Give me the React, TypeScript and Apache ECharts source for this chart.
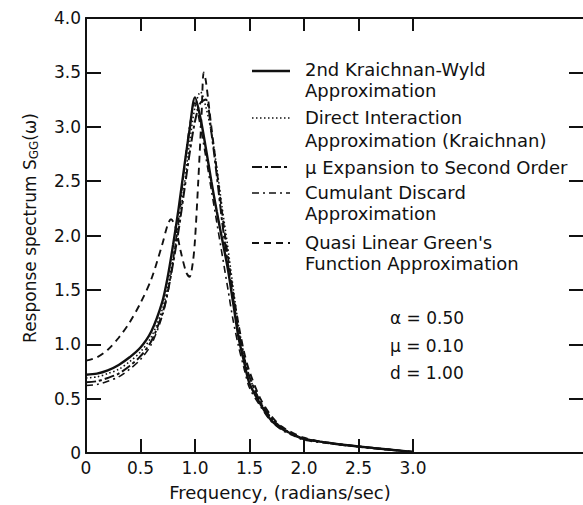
import React, { useEffect, useRef } from "react";
import * as echarts from "echarts";

// Frequency grid shared by four of the curves (radians/sec)
const freq = [0, 0.1, 0.2, 0.3, 0.4, 0.5, 0.6, 0.7, 0.75, 0.8, 0.85, 0.9, 0.95, 1.0, 1.05, 1.1, 1.15, 1.2, 1.25, 1.3, 1.35, 1.4, 1.45, 1.5, 1.6, 1.7, 1.8, 1.9, 2.0, 2.25, 2.5, 2.75, 3.0];
const kraichnanWyld = [0.72, 0.73, 0.76, 0.81, 0.88, 0.97, 1.12, 1.39, 1.62, 1.92, 2.25, 2.62, 2.97, 3.27, 3.08, 2.8, 2.5, 2.22, 1.96, 1.7, 1.38, 1.06, 0.84, 0.64, 0.45, 0.3, 0.22, 0.17, 0.13, 0.09, 0.06, 0.035, 0.01];
const directInteraction = [0.69, 0.7, 0.73, 0.77, 0.84, 0.93, 1.07, 1.32, 1.53, 1.8, 2.1, 2.45, 2.85, 3.18, 3.32, 3.18, 2.95, 2.62, 2.25, 1.9, 1.52, 1.17, 0.9, 0.7, 0.47, 0.32, 0.23, 0.17, 0.13, 0.09, 0.06, 0.035, 0.01];
const muExpansion = [0.65, 0.66, 0.69, 0.73, 0.8, 0.89, 1.03, 1.28, 1.48, 1.75, 2.05, 2.4, 2.75, 3.05, 3.22, 3.25, 2.95, 2.55, 2.12, 1.75, 1.42, 1.12, 0.88, 0.7, 0.47, 0.32, 0.23, 0.17, 0.13, 0.09, 0.06, 0.035, 0.01];
const cumulantDiscard = [0.62, 0.63, 0.66, 0.7, 0.77, 0.86, 1.0, 1.26, 1.47, 1.78, 2.15, 2.6, 3.0, 3.22, 3.0, 2.72, 2.42, 2.12, 1.82, 1.52, 1.22, 0.98, 0.78, 0.6, 0.43, 0.29, 0.21, 0.16, 0.12, 0.085, 0.055, 0.03, 0.01];

// Quasi linear Green's function curve has its own sampling
const freqQL = [0, 0.1, 0.2, 0.3, 0.4, 0.5, 0.6, 0.7, 0.75, 0.78, 0.82, 0.87, 0.92, 0.95, 0.98, 1.0, 1.03, 1.06, 1.08, 1.1, 1.15, 1.2, 1.25, 1.3, 1.35, 1.4, 1.45, 1.5, 1.6, 1.7, 1.8, 2.0, 2.25, 2.5, 2.75, 3.0];
const quasiLinear = [0.85, 0.88, 0.95, 1.06, 1.2, 1.38, 1.6, 1.92, 2.1, 2.15, 2.08, 1.85, 1.66, 1.62, 1.75, 1.96, 2.5, 3.1, 3.5, 3.42, 3.0, 2.6, 2.2, 1.82, 1.48, 1.18, 0.93, 0.75, 0.5, 0.34, 0.24, 0.14, 0.09, 0.06, 0.035, 0.01];

const xTickValues = [0.5, 1.0, 1.5, 2.0, 2.5, 3.0];
const xLabelValues = [0, 0.5, 1.0, 1.5, 2.0, 2.5, 3.0];
const legendLines = [
  ["2nd Kraichnan-Wyld", "Approximation"],
  ["Direct Interaction", "Approximation (Kraichnan)"],
  ["\u03bc Expansion to Second Order"],
  ["Cumulant Discard", "Approximation"],
  ["Quasi Linear Green's", "Function Approximation"],
];
const paramLines = ["\u03b1 = 0.50", "\u03bc = 0.10", "d = 1.00"];

const FONT = "DejaVu Sans";
const INK = "#111";
const X_MAX = 4.56;
const Y_MAX = 4;

const styles: any[] = [
  { type: "solid", width: 2.4 },
  { type: [1.5, 2.5], width: 1.6 },
  { type: [10, 3, 3, 3], width: 2 },
  { type: [7, 4, 2, 4], width: 1.6 },
  { type: [7, 5], width: 1.9 },
];

const zip = (xs: number[], ys: number[]) => xs.map((x, i) => [x, ys[i]]);

export default function App() {
  const ref = useRef<HTMLDivElement>(null);
  useEffect(() => {
    if (!ref.current) return;
    const chart = echarts.init(ref.current, null, { renderer: "svg" });
    const seriesData = [
      zip(freq, kraichnanWyld),
      zip(freq, directInteraction),
      zip(freq, muExpansion),
      zip(freq, cumulantDiscard),
      zip(freqQL, quasiLinear),
    ];
    const names = ["Kraichnan-Wyld", "DIA", "mu", "Cumulant", "QuasiLinear"];

    const legendY = [71, 118, 167, 193, 243];
    const textY = [[69, 90], [117, 140], [167], [192, 213], [242, 263]];
    const graphic: any[] = [];
    legendLines.forEach((lines, i) => {
      const s = styles[i];
      graphic.push({
        type: "line",
        shape: { x1: 252, y1: legendY[i], x2: 290, y2: legendY[i] },
        style: {
          stroke: INK,
          lineWidth: s.width,
          lineDash: Array.isArray(s.type) ? s.type : null,
        },
      });
      lines.forEach((t, j) => {
        graphic.push({
          type: "text",
          x: 305,
          y: textY[i][j],
          style: { text: t, fill: INK, font: `18px "${FONT}"`, verticalAlign: "middle", align: "left" },
        });
      });
    });
    paramLines.forEach((t, i) => {
      graphic.push({
        type: "text",
        x: 390,
        y: [318, 346, 373][i],
        style: { text: t, fill: INK, font: `17px "${FONT}"`, verticalAlign: "middle", align: "left" },
      });
    });
    graphic.push({
      type: "text",
      x: 280,
      y: 492,
      style: { text: "Frequency, (radians/sec)", fill: INK, font: `18px "${FONT}"`, verticalAlign: "middle", align: "center" },
    });
    graphic.push({
      type: "text",
      x: 30,
      y: 228,
      rotation: Math.PI / 2,
      style: {
        text: "{a|Response spectrum S}{s|GG}{a|(\u03c9)}",
        fill: INK,
        align: "center",
        verticalAlign: "middle",
        rich: {
          a: { fontFamily: FONT, fontSize: 17, fill: INK },
          s: { fontFamily: FONT, fontSize: 12, fill: INK, padding: [7, 0, 0, 0] },
        },
      },
    });

    const axisLine = (show = true) => ({ show, onZero: false, lineStyle: { color: INK, width: 2 } });
    const tick = (len: number, extra: any = {}) => ({
      show: true,
      inside: true,
      length: len,
      lineStyle: { color: INK, width: 2 },
      ...extra,
    });

    chart.setOption({
      animation: false,
      grid: { left: 86, top: 18, right: 0, bottom: 52 },
      xAxis: [
        {
          type: "value",
          min: 0,
          max: X_MAX,
          interval: 0.5,
          position: "bottom",
          axisLine: axisLine(),
          splitLine: { show: false },
          axisTick: tick(14, { customValues: xTickValues }),
          axisLabel: {
            customValues: xLabelValues,
            color: INK,
            fontFamily: FONT,
            fontSize: 17,
            margin: 6,
            formatter: (v: number) => (v === 0 ? "0" : v.toFixed(1)),
          },
        },
        {
          type: "value",
          min: 0,
          max: X_MAX,
          interval: 0.5,
          position: "top",
          axisLine: axisLine(),
          splitLine: { show: false },
          axisTick: tick(13, { customValues: xTickValues }),
          axisLabel: { show: false },
        },
      ],
      yAxis: [
        {
          type: "value",
          min: 0,
          max: Y_MAX,
          interval: 0.5,
          position: "left",
          axisLine: axisLine(),
          splitLine: { show: false },
          axisTick: tick(15),
          axisLabel: {
            color: INK,
            fontFamily: FONT,
            fontSize: 17,
            margin: 5,
            formatter: (v: number) => (v === 0 ? "0" : v.toFixed(1)),
          },
        },
        {
          type: "value",
          min: 0,
          max: Y_MAX,
          interval: 0.5,
          position: "right",
          axisLine: axisLine(false),
          splitLine: { show: false },
          axisTick: tick(14),
          axisLabel: { show: false },
        },
      ],
      series: seriesData.map((d, i) => ({
        name: names[i],
        type: "line",
        data: d,
        xAxisIndex: 0,
        yAxisIndex: 0,
        symbol: "none",
        smooth: 0.3,
        lineStyle: { color: INK, width: styles[i].width, type: styles[i].type },
      })),
      graphic,
    });
    return () => chart.dispose();
  }, []);
  return <div ref={ref} style={{ position: "fixed", left: 0, top: 0, width: 583, height: 505, background: "#fff" }} />;
}
